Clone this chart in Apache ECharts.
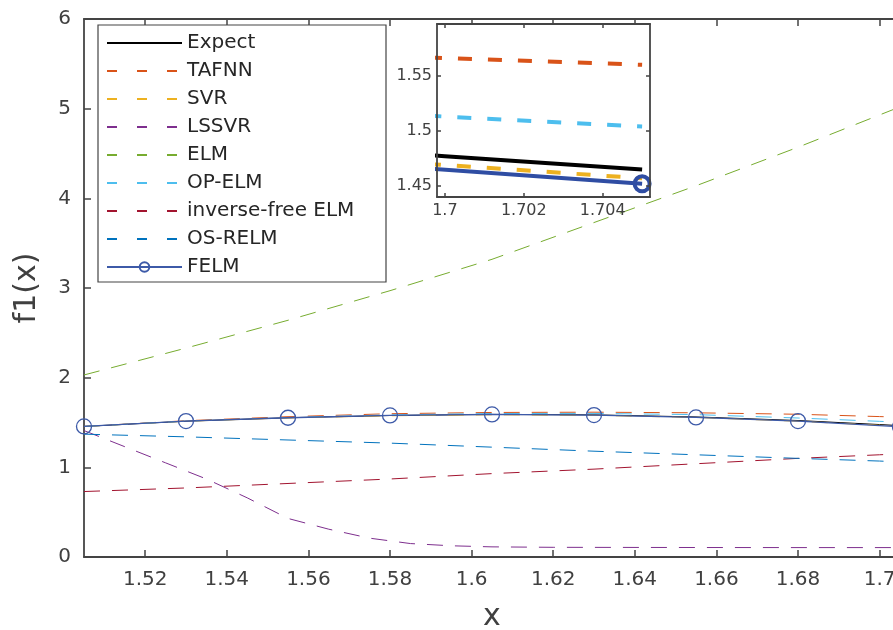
<!DOCTYPE html>
<html><head><meta charset="utf-8">
<script src="https://cdn.jsdelivr.net/npm/echarts@6/dist/echarts.min.js"></script>
<style>html,body{margin:0;padding:0;background:#fff}#c{width:893px;height:630px}</style>
</head><body><div id="c"></div>
<script>
// ---------- data ----------
const seriesNames = ['Expect','TAFNN','SVR','LSSVR','ELM','OP-ELM','inverse-free ELM','OS-RELM','FELM'];
const seriesColors = ['#000000','#D95319','#EDB120','#7E2F8E','#77AC30','#4DBEEE','#A2142F','#0072BD','#3d5aa8'];

const xs = [1.505, 1.53, 1.555, 1.58, 1.605, 1.63, 1.655, 1.68, 1.7, 1.705];
const expectY = [1.456, 1.515, 1.553, 1.578, 1.590, 1.585, 1.562, 1.522, 1.477, 1.465];
const tafnnY  = [1.456, 1.520, 1.565, 1.598, 1.612, 1.615, 1.608, 1.592, 1.566, 1.560];
const svrY    = [1.456, 1.514, 1.551, 1.575, 1.586, 1.580, 1.556, 1.514, 1.469, 1.457];
const elmY    = [2.03, 2.33, 2.64, 2.97, 3.32, 3.73, 4.14, 4.57, 4.93, 5.02];
const opelmY  = [1.456, 1.516, 1.556, 1.585, 1.600, 1.601, 1.588, 1.550, 1.513, 1.504];
const ifelmY  = [0.73, 0.77, 0.82, 0.87, 0.93, 0.98, 1.04, 1.10, 1.14, 1.15];
const osrelmY = [1.37, 1.34, 1.305, 1.27, 1.225, 1.18, 1.14, 1.10, 1.07, 1.06];

const lssvrX = [1.505, 1.515, 1.525, 1.535, 1.545, 1.555, 1.565, 1.575, 1.585, 1.595, 1.605, 1.62, 1.65, 1.68, 1.705];
const lssvrY = [1.41, 1.23, 1.05, 0.87, 0.66, 0.43, 0.31, 0.21, 0.15, 0.125, 0.113, 0.108, 0.106, 0.105, 0.105];

const felmX = [1.505, 1.53, 1.555, 1.58, 1.605, 1.63, 1.655, 1.68, 1.705];
const felmY = [1.456, 1.516, 1.553, 1.579, 1.590, 1.583, 1.557, 1.516, 1.452];

const xTicks = [1.52, 1.54, 1.56, 1.58, 1.60, 1.62, 1.64, 1.66, 1.68, 1.70];
const insetXTicks = [1.7, 1.702, 1.704];
const insetYTicks = [1.45, 1.5, 1.55];

// ---------- build ----------
const pairs = (x, y) => x.map((v, i) => [v, y[i]]);
const seriesData = {
  'Expect': pairs(xs, expectY),
  'TAFNN': pairs(xs, tafnnY),
  'SVR': pairs(xs, svrY),
  'LSSVR': pairs(lssvrX, lssvrY),
  'ELM': pairs(xs, elmY),
  'OP-ELM': pairs(xs, opelmY),
  'inverse-free ELM': pairs(xs, ifelmY),
  'OS-RELM': pairs(xs, osrelmY),
  'FELM': pairs(felmX, felmY)
};

const FONT = 'DejaVu Sans';
const AX = '#444444';
const LBL = '#404040';
const fmt = v => String(+(+v).toFixed(4));

function axisCommon(extra) {
  return Object.assign({
    type: 'value',
    splitLine: { show: false },
    axisLine: { show: true, onZero: false, lineStyle: { color: AX, width: 1.8 } },
  }, extra);
}

const xAxes = [
  axisCommon({ gridIndex: 0, position: 'bottom', min: 1.505, max: 1.705,
    axisTick: { inside: true, length: 7, customValues: xTicks, lineStyle: { color: AX, width: 1.5 } },
    axisLabel: { customValues: xTicks, margin: 13, fontSize: 20, fontFamily: FONT, color: LBL, formatter: fmt },
    name: 'x', nameLocation: 'middle', nameGap: 45,
    nameTextStyle: { fontSize: 30, fontFamily: FONT, color: LBL } }),
  axisCommon({ gridIndex: 0, position: 'top', min: 1.505, max: 1.705,
    axisTick: { inside: true, length: 7, customValues: xTicks, lineStyle: { color: AX, width: 1.5 } },
    axisLabel: { show: false } }),
  axisCommon({ gridIndex: 1, position: 'bottom', min: 1.6998, max: 1.7052, z: 12,
    axisTick: { inside: true, length: 4, customValues: insetXTicks, lineStyle: { color: AX, width: 1.5 } },
    axisLabel: { customValues: insetXTicks, margin: 6, fontSize: 16, fontFamily: FONT, color: LBL, formatter: fmt } }),
  axisCommon({ gridIndex: 1, position: 'top', min: 1.6998, max: 1.7052, z: 12,
    axisTick: { inside: true, length: 4, customValues: insetXTicks, lineStyle: { color: AX, width: 1.5 } },
    axisLabel: { show: false } })
];

const yAxes = [
  axisCommon({ gridIndex: 0, position: 'left', min: 0, max: 6, interval: 1,
    axisTick: { inside: true, length: 7, lineStyle: { color: AX, width: 1.5 } },
    axisLabel: { margin: 13, fontSize: 20, fontFamily: FONT, color: LBL },
    name: 'f1(x)', nameLocation: 'middle', nameGap: 42, nameRotate: 90,
    nameTextStyle: { fontSize: 30, fontFamily: FONT, color: LBL } }),
  axisCommon({ gridIndex: 0, position: 'right', min: 0, max: 6, interval: 1,
    axisTick: { inside: true, length: 7, lineStyle: { color: AX, width: 1.5 } },
    axisLabel: { show: false } }),
  axisCommon({ gridIndex: 1, position: 'left', min: 1.44, max: 1.597, z: 12,
    axisTick: { inside: true, length: 4, customValues: insetYTicks, lineStyle: { color: AX, width: 1.5 } },
    axisLabel: { customValues: insetYTicks, margin: 5, fontSize: 16, fontFamily: FONT, color: LBL, formatter: fmt } }),
  axisCommon({ gridIndex: 1, position: 'right', min: 1.44, max: 1.597, z: 12,
    axisTick: { inside: true, length: 4, customValues: insetYTicks, lineStyle: { color: AX, width: 1.5 } },
    axisLabel: { show: false } })
];

const series = [];
seriesNames.forEach((name, i) => {
  const isFelm = name === 'FELM';
  const s = {
    type: 'line', name, xAxisIndex: 0, yAxisIndex: 0,
    data: seriesData[name],
    lineStyle: { color: seriesColors[i], width: isFelm ? 1.3 : 1, type: (i === 0 || isFelm) ? 'solid' : [16, 12] },
    z: 2
  };
  if (isFelm) {
    Object.assign(s, { symbol: 'circle', symbolSize: 15, showSymbol: true, showAllSymbol: true,
      itemStyle: { color: 'rgba(255,255,255,0)', borderColor: seriesColors[i], borderWidth: 1.3 } });
  } else {
    Object.assign(s, { symbol: 'none', itemStyle: { color: seriesColors[i] } });
  }
  series.push(s);
});

// inset (zoomed view of the same data)
const insetNames = ['Expect', 'TAFNN', 'SVR', 'OP-ELM', 'FELM'];
insetNames.forEach(name => {
  const i = seriesNames.indexOf(name);
  const isFelm = name === 'FELM';
  const col = isFelm ? '#2f4da3' : seriesColors[i];
  const s = {
    type: 'line', name: name + ' (inset)', xAxisIndex: 2, yAxisIndex: 2,
    data: seriesData[name], clip: true, z: 10,
    lineStyle: { color: col, width: 4, type: (name === 'Expect' || isFelm) ? 'solid' : [14, 16] }
  };
  if (isFelm) {
    Object.assign(s, { symbol: 'circle', symbolSize: 15, showSymbol: true, showAllSymbol: true,
      itemStyle: { color: 'rgba(255,255,255,0)', borderColor: col, borderWidth: 4 } });
  } else {
    Object.assign(s, { symbol: 'none', itemStyle: { color: col } });
  }
  series.push(s);
});

const legendData = seriesNames.map((name, i) => {
  const d = { name };
  if (name !== 'FELM') d.itemStyle = { opacity: 0, color: 'rgba(0,0,0,0)', borderWidth: 0 };
  if (i !== 0 && name !== 'FELM') d.lineStyle = { type: [10, 20] };
  return d;
});

const option = {
  animation: false,
  backgroundColor: '#fff',
  grid: [
    { left: 84, top: 19, width: 816, height: 538, show: false, outerBoundsMode: 'none', containLabel: false },
    { left: 437, top: 24, width: 213, height: 173, show: true, backgroundColor: '#fff', borderWidth: 0, z: 8,
      outerBoundsMode: 'none', containLabel: false }
  ],
  xAxis: xAxes,
  yAxis: yAxes,
  graphic: [
    { type: 'rect', shape: { x: 98, y: 25, width: 288, height: 257 }, z: 3,
      style: { fill: '#fff', stroke: '#444', lineWidth: 1.2 } }
  ],
  legend: {
    data: legendData,
    orient: 'vertical', left: 98, top: 25, padding: [8, 10, 8, 8],
    itemWidth: 75, itemHeight: 12, itemGap: 8,
    selectedMode: false, z: 5,
    textStyle: { fontSize: 20, lineHeight: 20, fontFamily: FONT, color: '#262626' }
  },
  series
};

const chart = echarts.init(document.getElementById('c'), null, { renderer: 'canvas' });
chart.setOption(option);
</script>
</body></html>
